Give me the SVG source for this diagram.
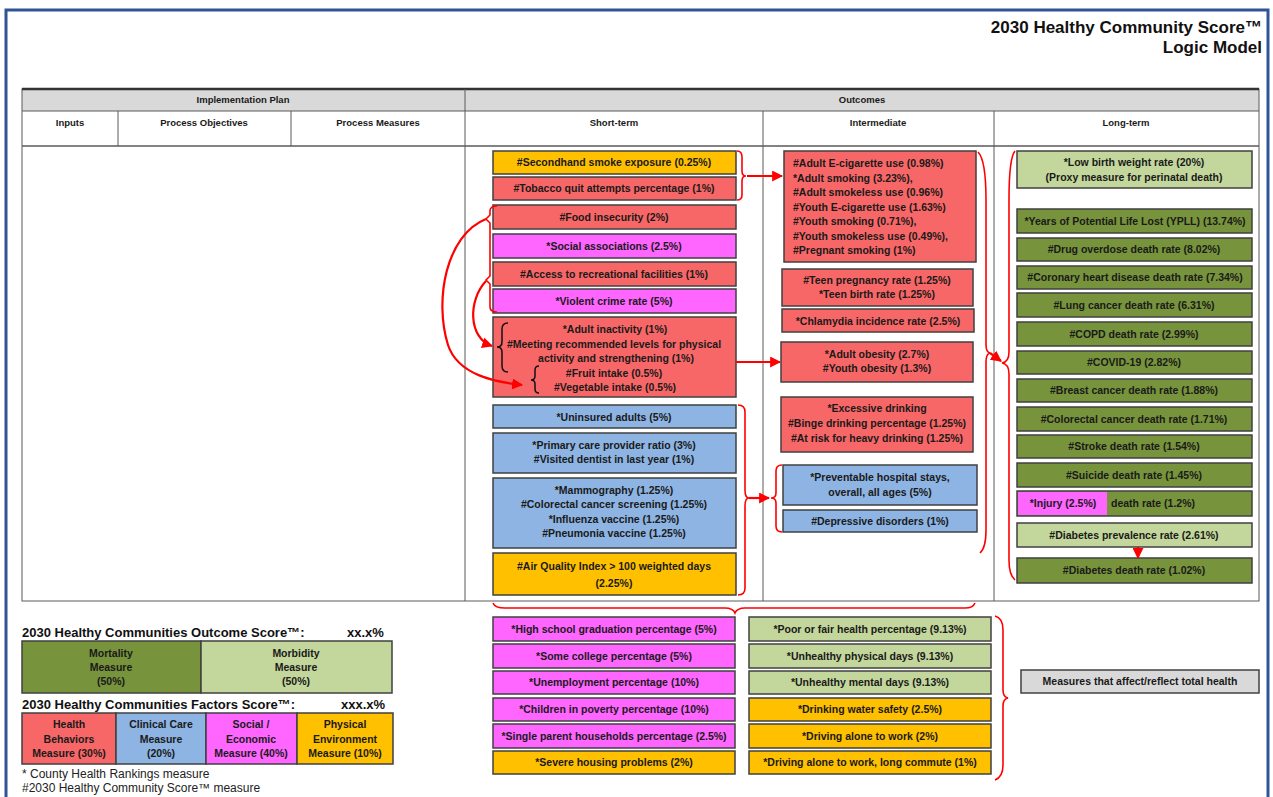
<svg xmlns="http://www.w3.org/2000/svg" width="1273" height="797" viewBox="0 0 1273 797">
<defs>
<style>
.bx{stroke:#404040;stroke-width:1.5}
.rd{fill:#f86767}.og{fill:#ffc000}.mg{fill:#ff66ff}.bl{fill:#8db4e2}.dg{fill:#77933c}.lg{fill:#c3d69b}.gr{fill:#d9d9d9}
.t{font-family:"Liberation Sans",Arial,sans-serif;font-weight:bold;font-size:10.5px;fill:#1a1a1a;text-anchor:middle}
.tl{text-anchor:start}
.h{font-family:"Liberation Sans",Arial,sans-serif;font-weight:bold;font-size:9.5px;fill:#1a1a1a;text-anchor:middle}
.ttl{font-family:"Liberation Sans",Arial,sans-serif;font-weight:bold;font-size:17px;fill:#111;text-anchor:end}
.lh{font-family:"Liberation Sans",Arial,sans-serif;font-weight:bold;font-size:13px;fill:#111}
.fn{font-family:"Liberation Sans",Arial,sans-serif;font-size:12px;fill:#222}
.grid{stroke:#5a5a5a;stroke-width:1;fill:none}
.rc{stroke:#ff0000;stroke-width:2.2;fill:none}
.rb{stroke:#ff0000;stroke-width:1.6;fill:none}
.kb{stroke:#111;stroke-width:1.5;fill:none}
</style>
<marker id="ah" viewBox="0 0 10 10" refX="9" refY="5" markerWidth="5" markerHeight="5" orient="auto" markerUnits="strokeWidth">
<path d="M0,0 L10,5 L0,10 z" fill="#ff0000"/>
</marker>
</defs>
<rect width="1273" height="797" fill="#fff"/>
<rect x="6" y="10" width="1262" height="800" fill="none" stroke="#2f5597" stroke-width="3"/>

<g id="title">
<text class="ttl" x="1262" y="33">2030 Healthy Community Score™</text>
<text class="ttl" x="1262" y="53">Logic Model</text>
</g>

<g id="table">
<rect x="22" y="89" width="1237" height="22" class="gr"/>
<rect x="22" y="89" width="1237" height="512" class="grid"/>
<line x1="22" y1="89" x2="1259" y2="89" stroke="#333" stroke-width="2.5"/>
<line x1="22" y1="111" x2="1259" y2="111" class="grid"/>
<line x1="22" y1="146" x2="1259" y2="146" stroke="#5a5a5a" stroke-width="1.5"/>
<line x1="465" y1="89" x2="465" y2="601" class="grid"/>
<line x1="763" y1="111" x2="763" y2="601" class="grid"/>
<line x1="994" y1="111" x2="994" y2="601" class="grid"/>
<line x1="118" y1="111" x2="118" y2="146" class="grid"/>
<line x1="291" y1="111" x2="291" y2="146" class="grid"/>
<text class="h" x="243" y="103">Implementation Plan</text>
<text class="h" x="862" y="103">Outcomes</text>
<text class="h" x="70" y="126">Inputs</text>
<text class="h" x="204" y="126">Process Objectives</text>
<text class="h" x="378" y="126">Process Measures</text>
<text class="h" x="614" y="126">Short-term</text>
<text class="h" x="878" y="126">Intermediate</text>
<text class="h" x="1126" y="126">Long-term</text>
</g>

<g id="short-term">
<g id="st1"><rect x="493" y="151" width="243" height="23" class="bx og"/><text class="t" x="614" y="166">#Secondhand smoke exposure (0.25%)</text></g>
<g id="st2"><rect x="493" y="177" width="243" height="23" class="bx rd"/><text class="t" x="614" y="192">#Tobacco quit attempts percentage (1%)</text></g>
<g id="st3"><rect x="493" y="205" width="243" height="24" class="bx rd"/><text class="t" x="614" y="221">#Food insecurity (2%)</text></g>
<g id="st4"><rect x="493" y="234" width="243" height="24" class="bx mg"/><text class="t" x="614" y="250">*Social associations (2.5%)</text></g>
<g id="st5"><rect x="493" y="262" width="243" height="24" class="bx rd"/><text class="t" x="614" y="278">#Access to recreational facilities (1%)</text></g>
<g id="st6"><rect x="493" y="289" width="243" height="24" class="bx mg"/><text class="t" x="614" y="305">*Violent crime rate (5%)</text></g>
<g id="st7"><rect x="493" y="317" width="243" height="80" class="bx rd"/>
<text class="t" x="615" y="333">*Adult inactivity (1%)</text>
<text class="t" x="614" y="348">#Meeting recommended levels for physical</text>
<text class="t" x="616" y="362">activity and strengthening (1%)</text>
<text class="t" x="614" y="377">#Fruit intake (0.5%)</text>
<text class="t" x="615" y="391">#Vegetable intake (0.5%)</text>
<path class="kb" d="M508,323 Q502,323 502,329 L502,342 Q502,347 497,347 Q502,347 502,352 L502,366 Q502,372 508,372"/>
<path class="kb" d="M539,366 Q535,366 535,370 L535,376 Q535,380 531,380 Q535,380 535,384 L535,389 Q535,393 539,393"/>
</g>
<g id="st8"><rect x="493" y="405" width="243" height="23" class="bx bl"/><text class="t" x="614" y="421">*Uninsured adults (5%)</text></g>
<g id="st9"><rect x="493" y="433" width="243" height="40" class="bx bl"/><text class="t" x="614" y="449">*Primary care provider ratio (3%)</text><text class="t" x="614" y="463">#Visited dentist in last year (1%)</text></g>
<g id="st10"><rect x="493" y="478" width="243" height="70" class="bx bl"/>
<text class="t" x="614" y="494">*Mammography (1.25%)</text>
<text class="t" x="614" y="508">#Colorectal cancer screening (1.25%)</text>
<text class="t" x="614" y="523">*Influenza vaccine (1.25%)</text>
<text class="t" x="614" y="537">#Pneumonia vaccine (1.25%)</text></g>
<g id="st11"><rect x="493" y="553" width="243" height="42" class="bx og"/><text class="t" x="614" y="570">#Air Quality Index &gt; 100 weighted days</text><text class="t" x="614" y="587">(2.25%)</text></g>
</g>

<g id="intermediate">
<g id="im1"><rect x="784" y="151" width="192" height="111" class="bx rd"/>
<text class="t tl" x="793" y="167">#Adult E-cigarette use (0.98%)</text>
<text class="t tl" x="793" y="182">*Adult smoking (3.23%),</text>
<text class="t tl" x="793" y="196">#Adult smokeless use (0.96%)</text>
<text class="t tl" x="793" y="211">#Youth E-cigarette use (1.63%)</text>
<text class="t tl" x="793" y="225">#Youth smoking (0.71%),</text>
<text class="t tl" x="793" y="240">#Youth smokeless use (0.49%),</text>
<text class="t tl" x="793" y="254">#Pregnant smoking (1%)</text></g>
<g id="im2"><rect x="782" y="269" width="191" height="37" class="bx rd"/><text class="t" x="877" y="284">#Teen pregnancy rate (1.25%)</text><text class="t" x="877" y="298">*Teen birth rate (1.25%)</text></g>
<g id="im3"><rect x="782" y="309" width="192" height="23" class="bx rd"/><text class="t" x="878" y="325">*Chlamydia incidence rate (2.5%)</text></g>
<g id="im4"><rect x="781" y="342" width="192" height="40" class="bx rd"/><text class="t" x="877" y="358">*Adult obesity (2.7%)</text><text class="t" x="877" y="372">#Youth obesity (1.3%)</text></g>
<g id="im5"><rect x="781" y="397" width="192" height="55" class="bx rd"/><text class="t" x="877" y="412">*Excessive drinking</text><text class="t" x="877" y="427">#Binge drinking percentage (1.25%)</text><text class="t" x="877" y="442">#At risk for heavy drinking (1.25%)</text></g>
<g id="im6"><rect x="783" y="465" width="194" height="40" class="bx bl"/><text class="t" x="880" y="481">*Preventable hospital stays,</text><text class="t" x="880" y="496">overall, all ages (5%)</text></g>
<g id="im7"><rect x="783" y="510" width="194" height="22" class="bx bl"/><text class="t" x="880" y="525">#Depressive disorders (1%)</text></g>
</g>

<g id="long-term">
<g id="lt1"><rect x="1017" y="151" width="235" height="37" class="bx lg"/><text class="t" x="1134" y="166">*Low birth weight rate (20%)</text><text class="t" x="1134" y="181">(Proxy measure for perinatal death)</text></g>
<g id="lt2"><rect x="1017" y="209" width="235" height="24" class="bx dg"/><text class="t" x="1135" y="225">*Years of Potential Life Lost (YPLL) (13.74%)</text></g>
<g id="lt3"><rect x="1017" y="238" width="235" height="23" class="bx dg"/><text class="t" x="1134" y="253">#Drug overdose death rate (8.02%)</text></g>
<g id="lt4"><rect x="1017" y="266" width="235" height="23" class="bx dg"/><text class="t" x="1135" y="281">#Coronary heart disease death rate (7.34%)</text></g>
<g id="lt5"><rect x="1017" y="293" width="235" height="24" class="bx dg"/><text class="t" x="1134" y="309">#Lung cancer death rate (6.31%)</text></g>
<g id="lt6"><rect x="1017" y="322" width="235" height="24" class="bx dg"/><text class="t" x="1134" y="338">#COPD death rate (2.99%)</text></g>
<g id="lt7"><rect x="1017" y="351" width="235" height="23" class="bx dg"/><text class="t" x="1134" y="366">#COVID-19 (2.82%)</text></g>
<g id="lt8"><rect x="1017" y="379" width="235" height="23" class="bx dg"/><text class="t" x="1134" y="394">#Breast cancer death rate (1.88%)</text></g>
<g id="lt9"><rect x="1017" y="407" width="235" height="24" class="bx dg"/><text class="t" x="1134" y="423">#Colorectal cancer death rate (1.71%)</text></g>
<g id="lt10"><rect x="1017" y="435" width="235" height="23" class="bx dg"/><text class="t" x="1134" y="450">#Stroke death rate (1.54%)</text></g>
<g id="lt11"><rect x="1017" y="463" width="235" height="24" class="bx dg"/><text class="t" x="1134" y="479">#Suicide death rate (1.45%)</text></g>
<g id="lt12"><rect x="1017" y="491" width="235" height="25" class="bx dg"/><rect x="1018" y="492" width="89" height="23" class="mg"/><text class="t" x="1063" y="507">*Injury (2.5%)</text><text class="t" x="1153" y="507">death rate (1.2%)</text></g>
<g id="lt13"><rect x="1017" y="523" width="235" height="24" class="bx lg"/><text class="t" x="1134" y="539">#Diabetes prevalence rate (2.61%)</text></g>
<g id="lt14"><rect x="1017" y="558" width="235" height="25" class="bx dg"/><text class="t" x="1134" y="574">#Diabetes death rate (1.02%)</text></g>
</g>

<g id="bottom-left">
<g id="bl1"><rect x="493" y="617" width="242" height="24" class="bx mg"/><text class="t" x="614" y="633">*High school graduation percentage (5%)</text></g>
<g id="bl2"><rect x="493" y="644" width="242" height="24" class="bx mg"/><text class="t" x="614" y="660">*Some college percentage (5%)</text></g>
<g id="bl3"><rect x="493" y="671" width="242" height="23" class="bx mg"/><text class="t" x="614" y="686">*Unemployment percentage (10%)</text></g>
<g id="bl4"><rect x="493" y="698" width="242" height="23" class="bx mg"/><text class="t" x="614" y="713">*Children in poverty percentage (10%)</text></g>
<g id="bl5"><rect x="493" y="724" width="242" height="24" class="bx mg"/><text class="t" x="614" y="740">*Single parent households percentage (2.5%)</text></g>
<g id="bl6"><rect x="493" y="751" width="242" height="23" class="bx og"/><text class="t" x="614" y="766">*Severe housing problems (2%)</text></g>
</g>
<g id="bottom-right">
<g id="br1"><rect x="749" y="617" width="242" height="24" class="bx lg"/><text class="t" x="870" y="633">*Poor or fair health percentage (9.13%)</text></g>
<g id="br2"><rect x="749" y="644" width="242" height="24" class="bx lg"/><text class="t" x="870" y="660">*Unhealthy physical days (9.13%)</text></g>
<g id="br3"><rect x="749" y="671" width="242" height="23" class="bx lg"/><text class="t" x="870" y="686">*Unhealthy mental days (9.13%)</text></g>
<g id="br4"><rect x="749" y="698" width="242" height="23" class="bx og"/><text class="t" x="870" y="713">*Drinking water safety (2.5%)</text></g>
<g id="br5"><rect x="749" y="724" width="242" height="24" class="bx og"/><text class="t" x="870" y="740">*Driving alone to work (2%)</text></g>
<g id="br6"><rect x="749" y="751" width="242" height="23" class="bx og"/><text class="t" x="870" y="766">*Driving alone to work, long commute (1%)</text></g>
</g>
<g id="total-health"><rect x="1021" y="670" width="238" height="23" class="bx gr"/><text class="t" x="1140" y="685">Measures that affect/reflect total health</text></g>

<g id="legend">
<text class="lh" x="22" y="637">2030 Healthy Communities Outcome Score™:</text>
<text class="lh" x="347" y="637">xx.x%</text>
<rect x="22" y="641" width="179" height="52" class="bx dg"/>
<rect x="201" y="641" width="191" height="52" class="bx lg"/>
<text class="t" x="111" y="657">Mortality</text><text class="t" x="111" y="671">Measure</text><text class="t" x="111" y="685">(50%)</text>
<text class="t" x="296" y="657">Morbidity</text><text class="t" x="296" y="671">Measure</text><text class="t" x="296" y="685">(50%)</text>
<text class="lh" x="22" y="709">2030 Healthy Communities Factors Score™:</text>
<text class="lh" x="341" y="709">xxx.x%</text>
<rect x="22" y="713" width="94" height="51" class="bx rd"/>
<rect x="116" y="713" width="90" height="51" class="bx bl"/>
<rect x="206" y="713" width="91" height="51" class="bx mg"/>
<rect x="297" y="713" width="96" height="51" class="bx og"/>
<text class="t" x="69" y="728">Health</text><text class="t" x="69" y="743">Behaviors</text><text class="t" x="69" y="757">Measure (30%)</text>
<text class="t" x="161" y="728">Clinical Care</text><text class="t" x="161" y="743">Measure</text><text class="t" x="161" y="757">(20%)</text>
<text class="t" x="251" y="728">Social /</text><text class="t" x="251" y="743">Economic</text><text class="t" x="251" y="757">Measure (40%)</text>
<text class="t" x="345" y="728">Physical</text><text class="t" x="345" y="743">Environment</text><text class="t" x="345" y="757">Measure (10%)</text>
<text class="fn" x="22" y="778">* County Health Rankings measure</text>
<text class="fn" x="22" y="792">#2030 Healthy Community Score™ measure</text>
</g>

<g id="connectors">
<path class="rb" d="M737,151 Q742,151 742,157 L742,171 Q742,176 746,176 Q742,176 742,181 L742,195 Q742,200 737,200"/>
<path class="rc" d="M747,176 L782,176" marker-end="url(#ah)"/>
<path class="rb" d="M497,206 Q490,206 490,211 L490,215 L486,219 L490,223 L490,276 L486,280 L490,284 L490,307 Q490,312 497,312"/>
<path class="rc" d="M486,219 C446,235 434,300 448,345 C458,375 495,382 522,385" marker-end="url(#ah)"/>
<path class="rc" d="M486,281 C468,300 468,338 492,346" marker-end="url(#ah)"/>
<path class="rc" d="M736,362 L780,362" marker-end="url(#ah)"/>
<path class="rb" d="M738,405 Q745,405 745,412 L745,490 Q745,498 749,498 Q745,498 745,506 L745,588 Q745,595 738,595"/>
<path class="rc" d="M749,498 L769,498" marker-end="url(#ah)"/>
<path class="rb" d="M782,465 Q776,465 776,471 L776,493 Q776,498 771,498 Q776,498 776,503 L776,526 Q776,532 782,532"/>
<path class="rb" d="M978,152 Q986,160 986,200 L986,345 Q986,352 990,353 Q986,354 986,362 L986,530 Q986,548 980,553"/>
<path class="rc" d="M990,353 L1001,361" marker-end="url(#ah)"/>
<path class="rb" d="M1015,151 Q1009,158 1009,200 L1009,352 Q1009,362 1002,363 Q1009,364 1009,374 L1009,560 Q1009,575 1015,580"/>
<path class="rc" d="M1138,547 L1138,558" marker-end="url(#ah)"/>
<path class="rb" d="M493,603 Q495,608 505,608 L725,608 Q733,608 735,613 Q737,608 745,608 L965,608 Q973,608 975,603"/>
<path class="rb" d="M995,616 Q1003,618 1003,630 L1003,690 Q1003,697 1008,698 Q1003,699 1003,706 L1003,765 Q1003,777 995,780"/>
</g>
</svg>
